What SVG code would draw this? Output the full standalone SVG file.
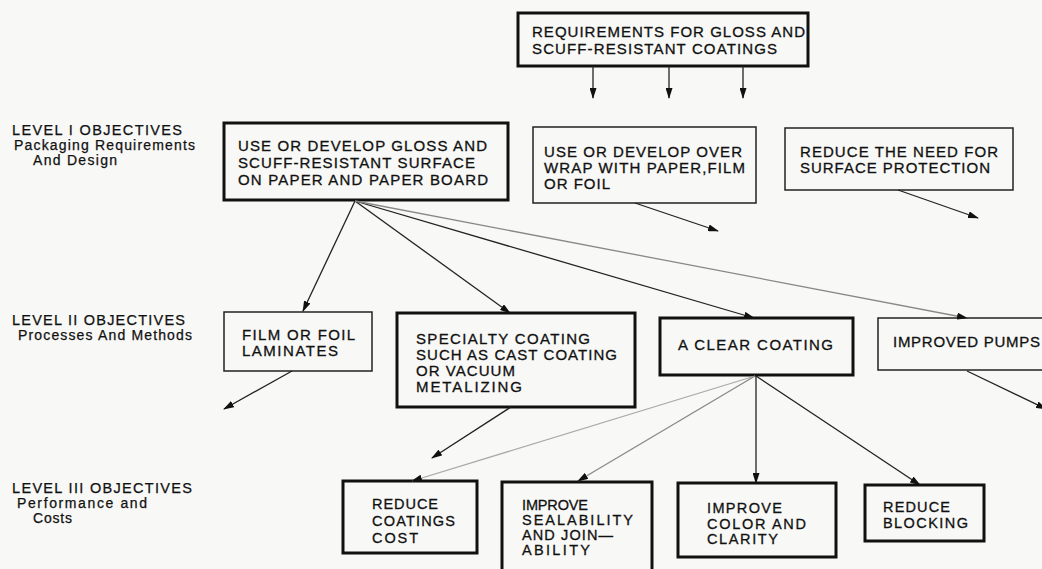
<svg xmlns="http://www.w3.org/2000/svg" width="1042" height="569" viewBox="0 0 1042 569">
<style>
.bg{fill:#f8f8f6}
.thick{fill:none;stroke:#111;stroke-width:3}
.thin{fill:none;stroke:#222;stroke-width:1.5}
.t{font-family:"Liberation Sans",Arial,sans-serif;font-size:15px;fill:#111;stroke:#111;stroke-width:0.3}
.m{font-size:14.5px}
.lab{font-family:"Liberation Sans",Arial,sans-serif;font-size:14.5px;fill:#111;stroke:#111;stroke-width:0.25}
.sub{font-size:14px}
.c{fill:none;stroke:#222;stroke-width:1.3}
.g{stroke:#888}
.lg{stroke:#aaa}
</style>
<defs>
<marker id="ah" markerUnits="userSpaceOnUse" markerWidth="11" markerHeight="7" refX="10" refY="3.5" orient="auto">
<path d="M0,0 L11,3.5 L0,7 z" fill="#111"/>
</marker>
</defs>
<rect class="bg" x="0" y="0" width="1042" height="569"/>

<g id="labels">
<text class="lab" x="12" y="135" textLength="170" lengthAdjust="spacing">LEVEL I OBJECTIVES</text>
<text class="lab sub" x="14" y="150" textLength="181" lengthAdjust="spacing">Packaging Requirements</text>
<text class="lab sub" x="33" y="165" textLength="84" lengthAdjust="spacing">And Design</text>
<text class="lab" x="12" y="325" textLength="173" lengthAdjust="spacing">LEVEL II OBJECTIVES</text>
<text class="lab sub" x="18" y="340" textLength="174" lengthAdjust="spacing">Processes And Methods</text>
<text class="lab" x="12" y="493" textLength="180" lengthAdjust="spacing">LEVEL III OBJECTIVES</text>
<text class="lab sub" x="17" y="508" textLength="130" lengthAdjust="spacing">Performance and</text>
<text class="lab sub" x="33" y="523" textLength="39" lengthAdjust="spacing">Costs</text>
</g>

<g id="n-top">
<rect class="thick" x="518" y="13" width="290" height="53"/>
<text class="t" x="532" y="37" textLength="273" lengthAdjust="spacing">REQUIREMENTS FOR GLOSS AND</text>
<text class="t" x="532" y="54" textLength="245" lengthAdjust="spacing">SCUFF-RESISTANT COATINGS</text>
</g>

<g id="n-l1a">
<rect class="thick" x="224" y="123" width="284" height="77"/>
<text class="t" x="238" y="151" textLength="249" lengthAdjust="spacing">USE OR DEVELOP GLOSS AND</text>
<text class="t" x="238" y="168" textLength="237" lengthAdjust="spacing">SCUFF-RESISTANT SURFACE</text>
<text class="t" x="238" y="185" textLength="250" lengthAdjust="spacing">ON PAPER AND PAPER BOARD</text>
</g>

<g id="n-l1b">
<rect class="thin" x="533" y="127" width="223" height="76"/>
<text class="t" x="544" y="157" textLength="198" lengthAdjust="spacing">USE OR DEVELOP OVER</text>
<text class="t" x="544" y="173" textLength="201" lengthAdjust="spacing">WRAP WITH PAPER,FILM</text>
<text class="t" x="544" y="189" textLength="66" lengthAdjust="spacing">OR FOIL</text>
</g>

<g id="n-l1c">
<rect class="thin" x="785" y="128" width="228" height="62"/>
<text class="t" x="800" y="157" textLength="198" lengthAdjust="spacing">REDUCE THE NEED FOR</text>
<text class="t" x="800" y="173" textLength="190" lengthAdjust="spacing">SURFACE PROTECTION</text>
</g>

<g id="n-film">
<rect class="thin" x="224" y="312" width="148" height="59"/>
<text class="t" x="242" y="340" textLength="113" lengthAdjust="spacing">FILM OR FOIL</text>
<text class="t" x="242" y="356" textLength="96" lengthAdjust="spacing">LAMINATES</text>
</g>

<g id="n-specialty">
<rect class="thick" x="397" y="313" width="238" height="94"/>
<text class="t" x="416" y="344" textLength="174" lengthAdjust="spacing">SPECIALTY COATING</text>
<text class="t" x="416" y="360" textLength="201" lengthAdjust="spacing">SUCH AS CAST COATING</text>
<text class="t" x="416" y="376" textLength="99" lengthAdjust="spacing">OR VACUUM</text>
<text class="t" x="416" y="392" textLength="106" lengthAdjust="spacing">METALIZING</text>
</g>

<g id="n-clear">
<rect class="thick" x="660" y="318" width="193" height="57"/>
<text class="t" x="678" y="350" textLength="155" lengthAdjust="spacing">A CLEAR COATING</text>
</g>

<g id="n-pumps">
<rect class="thin" x="878" y="318" width="170" height="52"/>
<text class="t" x="893" y="347" textLength="147" lengthAdjust="spacing">IMPROVED PUMPS</text>
</g>

<g id="n-cost">
<rect class="thick" x="343" y="481" width="134" height="72"/>
<text class="t m" x="372" y="509" textLength="66" lengthAdjust="spacing">REDUCE</text>
<text class="t m" x="372" y="526" textLength="83" lengthAdjust="spacing">COATINGS</text>
<text class="t m" x="372" y="543" textLength="46" lengthAdjust="spacing">COST</text>
</g>

<g id="n-seal">
<rect class="thick" x="502" y="482" width="150" height="100"/>
<text class="t m" x="522" y="510" textLength="66" lengthAdjust="spacing">IMPROVE</text>
<text class="t m" x="522" y="525" textLength="111" lengthAdjust="spacing">SEALABILITY</text>
<text class="t m" x="522" y="540" textLength="91" lengthAdjust="spacing">AND JOIN—</text>
<text class="t m" x="522" y="555" textLength="68" lengthAdjust="spacing">ABILITY</text>
</g>

<g id="n-color">
<rect class="thick" x="678" y="483" width="158" height="74"/>
<text class="t m" x="707" y="513" textLength="75" lengthAdjust="spacing">IMPROVE</text>
<text class="t m" x="707" y="529" textLength="99" lengthAdjust="spacing">COLOR AND</text>
<text class="t m" x="707" y="544" textLength="71" lengthAdjust="spacing">CLARITY</text>
</g>

<g id="n-blocking">
<rect class="thick" x="865" y="485" width="119" height="56"/>
<text class="t m" x="883" y="512" textLength="67" lengthAdjust="spacing">REDUCE</text>
<text class="t m" x="883" y="528" textLength="85" lengthAdjust="spacing">BLOCKING</text>
</g>

<g id="connectors" marker-end="url(#ah)">
<line class="c" x1="593" y1="66" x2="593" y2="98"/>
<line class="c" x1="669" y1="66" x2="669" y2="98"/>
<line class="c" x1="743" y1="66" x2="743" y2="98"/>
<line class="c" x1="355" y1="201" x2="303" y2="311"/>
<line class="c" x1="355" y1="201" x2="510" y2="313"/>
<line class="c" x1="355" y1="201" x2="754" y2="318"/>
<line class="c g" x1="355" y1="201" x2="967" y2="318"/>
<line class="c" x1="635" y1="203" x2="718" y2="231"/>
<line class="c" x1="898" y1="190" x2="978" y2="218"/>
<line class="c" x1="292" y1="371" x2="224" y2="409"/>
<line class="c" x1="511" y1="407" x2="432" y2="458"/>
<line class="c" x1="967" y1="371" x2="1046" y2="409"/>
<line class="c lg" x1="755" y1="376" x2="412" y2="481"/>
<line class="c g" x1="755" y1="376" x2="578" y2="481"/>
<line class="c" x1="756" y1="376" x2="756" y2="483"/>
<line class="c" x1="756" y1="376" x2="920" y2="485"/>
</g>
</svg>
